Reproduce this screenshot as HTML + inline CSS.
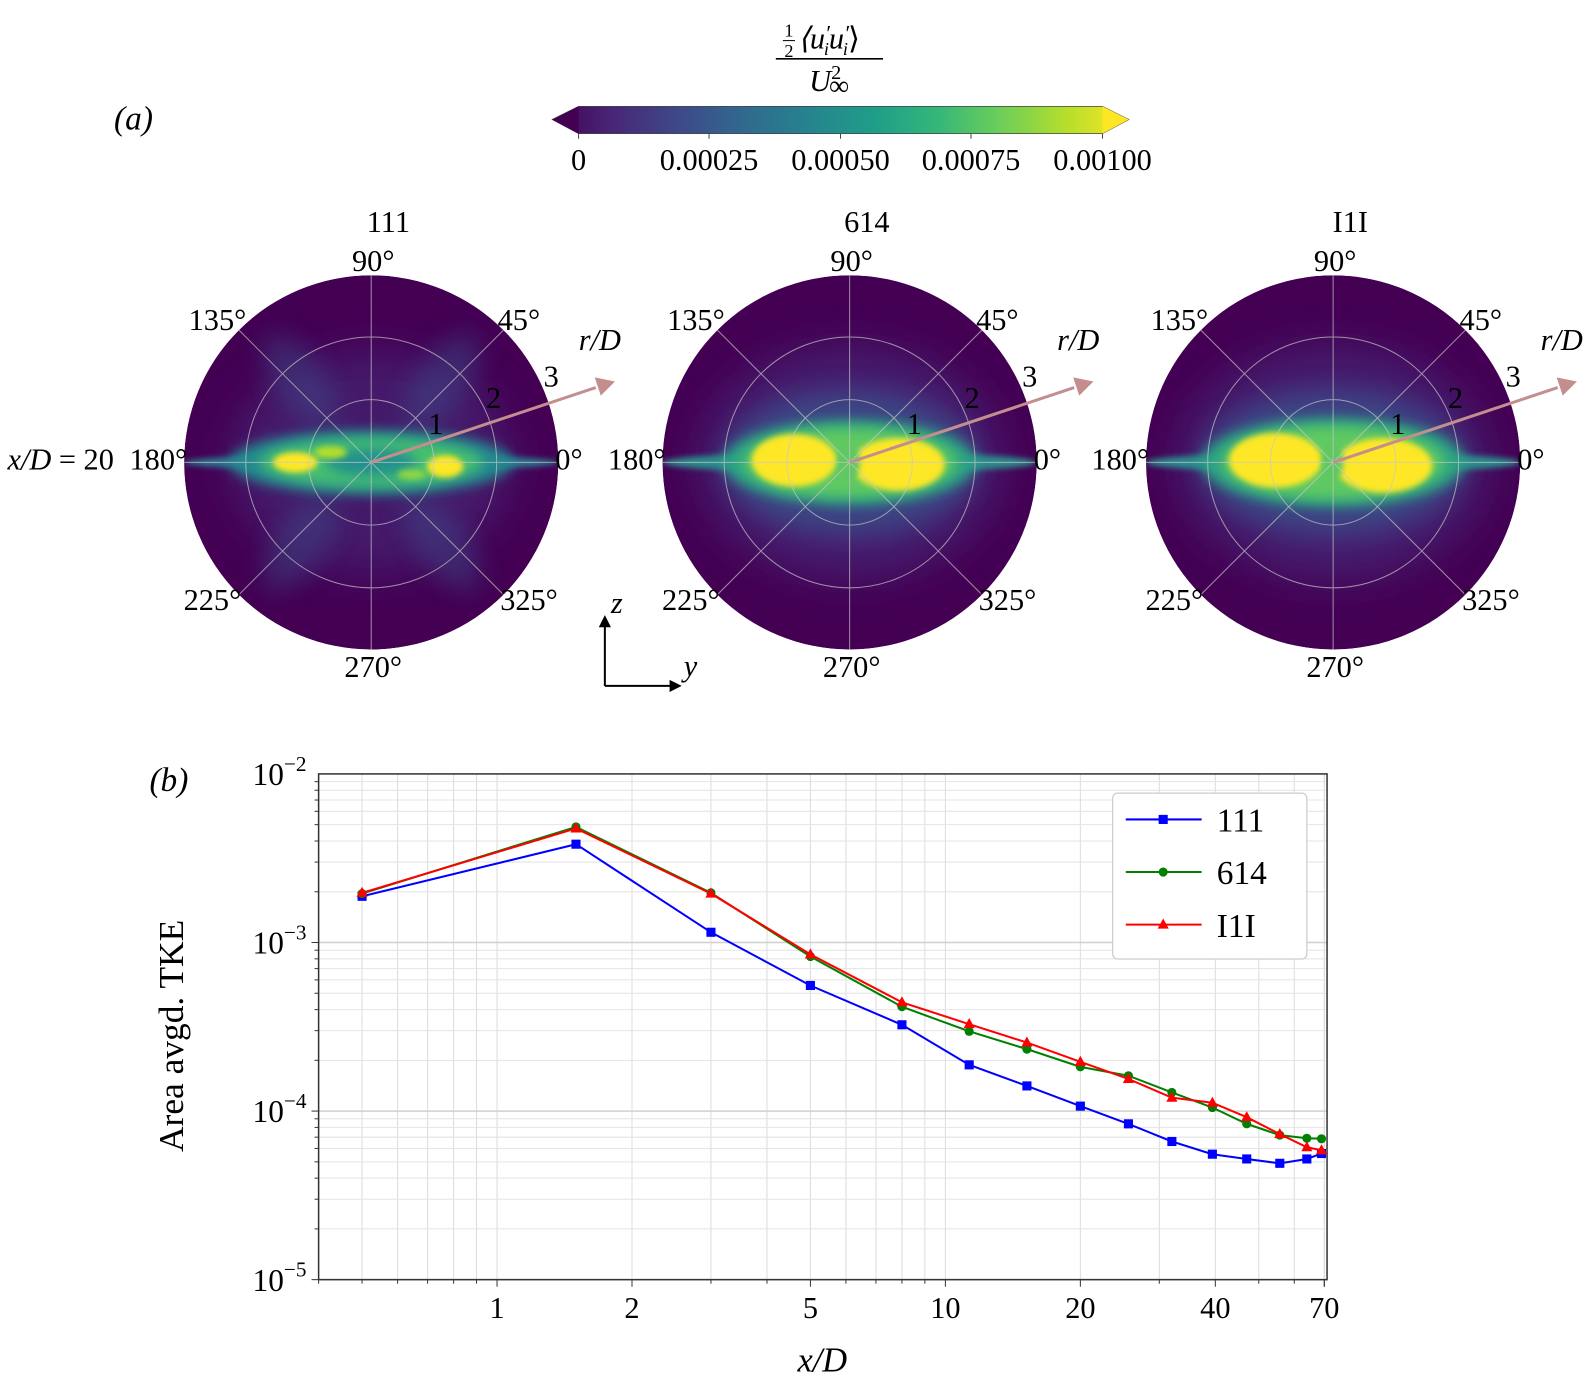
<!DOCTYPE html>
<html><head><meta charset="utf-8"><style>
html,body{margin:0;padding:0;background:#fff;}
svg{display:block;font-family:"Liberation Serif",serif;}
</style></head><body>
<svg id="fig" width="1587" height="1386" viewBox="0 0 1569 1370" xmlns="http://www.w3.org/2000/svg">
<defs>
<linearGradient id="vir" x1="0" x2="1" y1="0" y2="0">
<stop offset="0" stop-color="#440154"/><stop offset="0.11" stop-color="#482878"/><stop offset="0.22" stop-color="#3e4989"/><stop offset="0.33" stop-color="#31688e"/><stop offset="0.44" stop-color="#26828e"/><stop offset="0.56" stop-color="#1f9e89"/><stop offset="0.67" stop-color="#35b779"/><stop offset="0.78" stop-color="#6ece58"/><stop offset="0.89" stop-color="#b5de2b"/><stop offset="1" stop-color="#fde725"/>
</linearGradient>
<filter id="b3" x="-50%" y="-50%" width="200%" height="200%"><feGaussianBlur stdDeviation="3"/></filter>
<filter id="b6" x="-50%" y="-50%" width="200%" height="200%"><feGaussianBlur stdDeviation="6"/></filter>
<filter id="b12" x="-50%" y="-50%" width="200%" height="200%"><feGaussianBlur stdDeviation="12"/></filter>
<filter id="b20" x="-50%" y="-50%" width="200%" height="200%"><feGaussianBlur stdDeviation="20"/></filter>
<clipPath id="cc"><circle cx="0" cy="0" r="185"/></clipPath>
</defs>

<text x="132" y="128" font-size="33" font-style="italic" text-anchor="middle">(a)</text>
<text x="167" y="782" font-size="33" font-style="italic" text-anchor="middle">(b)</text>

<g>
<g>
<text x="780" y="36" font-size="18" text-anchor="middle">1</text>
<line x1="774" x2="786" y1="40" y2="40" stroke="#000" stroke-width="1"/>
<text x="780" y="56" font-size="18" text-anchor="middle">2</text>
<text x="789" y="48" font-size="30" font-style="italic">⟨u<tspan font-size="22" dy="-8">′</tspan><tspan font-size="18" dy="14" dx="-6">i</tspan><tspan dy="-6">u</tspan><tspan font-size="22" dy="-8">′</tspan><tspan font-size="18" dy="14" dx="-6">i</tspan><tspan dy="-6" font-style="normal">⟩</tspan></text>
<line x1="767" x2="873" y1="58" y2="58" stroke="#000" stroke-width="1.5"/>
<text x="800" y="90" font-size="30" font-style="italic">U<tspan font-style="normal" font-size="20" dy="-12">2</tspan><tspan font-style="normal" font-size="28" dx="-12" dy="16">∞</tspan></text>
</g>
<polygon points="546,118 572,105 1090,105 1116,118 1090,132 572,132" fill="url(#vir)" stroke="#444" stroke-width="0.8"/>
<polygon points="546,118 572,105 572,132" fill="#440154"/>
<polygon points="1116,118 1090,105 1090,132" fill="#fde725"/>
<g font-size="30" text-anchor="middle">
<line x1="572" x2="572" y1="132" y2="137" stroke="#444"/><text x="572" y="168">0</text>
<line x1="701" x2="701" y1="132" y2="137" stroke="#444"/><text x="701" y="168">0.00025</text>
<line x1="831" x2="831" y1="132" y2="137" stroke="#444"/><text x="831" y="168">0.00050</text>
<line x1="960" x2="960" y1="132" y2="137" stroke="#444"/><text x="960" y="168">0.00075</text>
<line x1="1090" x2="1090" y1="132" y2="137" stroke="#444"/><text x="1090" y="168">0.00100</text>
</g>
</g>

<text x="60" y="464" font-size="30" text-anchor="middle"><tspan font-style="italic">x/D</tspan> = 20</text>

<g transform="translate(367,457)">
<g clip-path="url(#cc)">
<circle r="185" fill="#440154"/>
<ellipse rx="140" ry="110" fill="#472a7a" opacity="0.6" filter="url(#b20)"/>
<ellipse cx="-70" cy="-80" rx="25" ry="55" transform="rotate(-35 -70 -80)" fill="#3b4f8a" opacity="0.45" filter="url(#b12)"/>
<ellipse cx="70" cy="-80" rx="25" ry="55" transform="rotate(35 70 -80)" fill="#3b4f8a" opacity="0.45" filter="url(#b12)"/>
<ellipse cx="-70" cy="80" rx="25" ry="55" transform="rotate(35 -70 80)" fill="#3b4f8a" opacity="0.45" filter="url(#b12)"/>
<ellipse cx="70" cy="80" rx="25" ry="55" transform="rotate(-35 70 80)" fill="#3b4f8a" opacity="0.45" filter="url(#b12)"/>
<ellipse rx="185" ry="8" fill="#2a788e" filter="url(#b3)"/>
<ellipse rx="140" ry="32" fill="#23898e" filter="url(#b6)"/>
<ellipse rx="110" ry="24" fill="#46c06f" filter="url(#b6)"/>
<ellipse rx="45" ry="14" fill="#21918c" filter="url(#b6)"/>
<ellipse cx="-75" cy="0" rx="22" ry="10" fill="#fde725" filter="url(#b3)"/>
<ellipse cx="-40" cy="-10" rx="16" ry="6" fill="#b5de2b" filter="url(#b3)"/>
<ellipse cx="73" cy="4" rx="18" ry="11" fill="#fde725" filter="url(#b3)"/>
<ellipse cx="40" cy="12" rx="14" ry="5" fill="#8fd744" filter="url(#b3)"/>
</g>
<g stroke="#c8c8c8" stroke-width="1" fill="none" opacity="0.7">
<circle r="62"/><circle r="124"/>
<line x1="-185" x2="185"/><line y1="-185" y2="185"/>
<line x1="-131" y1="-131" x2="131" y2="131"/><line x1="-131" y1="131" x2="131" y2="-131"/>
</g>
</g>

<g transform="translate(840,457)">
<g clip-path="url(#cc)">
<circle r="185" fill="#440154"/>
<ellipse rx="150" ry="115" fill="#472a7a" opacity="0.7" filter="url(#b20)"/>
<ellipse rx="125" ry="72" fill="#3b4f8a" opacity="0.8" filter="url(#b12)"/>
<ellipse rx="185" ry="10" fill="#2a8c8c" filter="url(#b3)"/>
<ellipse rx="125" ry="42" fill="#2aa283" filter="url(#b6)"/>
<ellipse rx="105" ry="34" fill="#5ec962" filter="url(#b6)"/>
<ellipse cx="-55" cy="-2" rx="42" ry="26" fill="#fde725" filter="url(#b3)"/>
<ellipse cx="48" cy="2" rx="46" ry="26" fill="#fde725" filter="url(#b3)"/>
<ellipse cx="0" cy="0" rx="10" ry="18" fill="#60c860" filter="url(#b3)"/>
</g>
<g stroke="#c8c8c8" stroke-width="1" fill="none" opacity="0.7">
<circle r="62"/><circle r="124"/>
<line x1="-185" x2="185"/><line y1="-185" y2="185"/>
<line x1="-131" y1="-131" x2="131" y2="131"/><line x1="-131" y1="131" x2="131" y2="-131"/>
</g>
</g>

<g transform="translate(1318,457)">
<g clip-path="url(#cc)">
<circle r="185" fill="#440154"/>
<ellipse rx="155" ry="115" fill="#472a7a" opacity="0.7" filter="url(#b20)"/>
<ellipse rx="130" ry="72" fill="#3b4f8a" opacity="0.8" filter="url(#b12)"/>
<ellipse rx="185" ry="10" fill="#2a8c8c" filter="url(#b3)"/>
<ellipse rx="130" ry="44" fill="#2aa283" filter="url(#b6)"/>
<ellipse rx="110" ry="36" fill="#5ec962" filter="url(#b6)"/>
<ellipse cx="-57" cy="-2" rx="46" ry="27" fill="#fde725" filter="url(#b3)"/>
<ellipse cx="50" cy="3" rx="48" ry="27" fill="#fde725" filter="url(#b3)"/>
<ellipse cx="0" cy="0" rx="10" ry="18" fill="#60c860" filter="url(#b3)"/>
</g>
<g stroke="#c8c8c8" stroke-width="1" fill="none" opacity="0.7">
<circle r="62"/><circle r="124"/>
<line x1="-185" x2="185"/><line y1="-185" y2="185"/>
<line x1="-131" y1="-131" x2="131" y2="131"/><line x1="-131" y1="131" x2="131" y2="-131"/>
</g>
</g>

<g id="polarLabels" font-size="30"></g>

<g>
<line x1="598" y1="678" x2="598" y2="618" stroke="#000" stroke-width="2"/>
<polygon points="592,620 598,608 604,620" fill="#000"/>
<line x1="598" y1="678" x2="664" y2="678" stroke="#000" stroke-width="2"/>
<polygon points="662,672 674,678 662,684" fill="#000"/>
<text x="604" y="606" font-size="30" font-style="italic">z</text>
<text x="676" y="668" font-size="30" font-style="italic">y</text>
</g>

<g id="chart"></g>
</svg>
<script>
// ---------- chart data ----------
const xCats = [0.5, 1.5, 3, 5, 8, 11.3, 15.2, 20, 25.6, 32, 39.4, 47, 55.7, 64, 69];
const s111 = [1.88e-3, 3.83e-3, 1.15e-3, 5.56e-4, 3.25e-4, 1.88e-4, 1.41e-4, 1.07e-4, 8.4e-5, 6.6e-5, 5.55e-5, 5.2e-5, 4.9e-5, 5.2e-5, 5.6e-5];
const s614 = [1.95e-3, 4.85e-3, 1.97e-3, 8.26e-4, 4.16e-4, 2.97e-4, 2.33e-4, 1.83e-4, 1.62e-4, 1.29e-4, 1.05e-4, 8.4e-5, 7.2e-5, 6.9e-5, 6.85e-5];
const sI1I = [1.97e-3, 4.75e-3, 1.95e-3, 8.5e-4, 4.42e-4, 3.28e-4, 2.55e-4, 1.96e-4, 1.55e-4, 1.2e-4, 1.12e-4, 9.2e-5, 7.3e-5, 6.1e-5, 5.85e-5];
const seriesNames = ["111", "614", "I1I"];
const xTickLabels = [1, 2, 5, 10, 20, 40, 70];
const yTickExps = [-2, -3, -4, -5];

const NS = "http://www.w3.org/2000/svg";
const L = 315, R = 1312, T = 765, B = 1265;
const xmin = 0.4, xmax = 71, ymin = 1e-5, ymax = 1e-2;
function X(v){ return L + (Math.log10(v)-Math.log10(xmin))/(Math.log10(xmax)-Math.log10(xmin))*(R-L); }
function Y(v){ return B - (Math.log10(v)-Math.log10(ymin))/(Math.log10(ymax)-Math.log10(ymin))*(B-T); }
function mk(tag, attrs, parent){ const e=document.createElementNS(NS,tag); for(const k in attrs) e.setAttribute(k,attrs[k]); parent.appendChild(e); return e; }

const chart = document.getElementById("chart");
const xg = [];
for (const d of [0.1,1,10]) for (let m=1;m<10;m++){ const v=m*d; if(v>=xmin && v<=xmax) xg.push(v); }
xg.push(70);
for (const v of xg){
  const gl = mk("line",{x1:X(v),x2:X(v),y1:T,y2:B,stroke:"#dcdcdc","stroke-width":1},chart);
  
  
  mk("line",{x1:X(v),x2:X(v),y1:B,y2:B+(xTickLabels.includes(v)?7:4),stroke:"#333","stroke-width":1},chart);
}
for (let e=-5;e<-2;e++) for (let m=1;m<10;m++){
  const v=m*Math.pow(10,e);
  const gl = mk("line",{x1:L,x2:R,y1:Y(v),y2:Y(v),stroke:m===1?"#d0d0d0":"#e4e4e4","stroke-width":m===1?1.5:1},chart);
  
  
  mk("line",{x1:L,x2:L-(m===1?7:4),y1:Y(v),y2:Y(v),stroke:"#333","stroke-width":1},chart);
}
mk("rect",{x:L,y:T,width:R-L,height:B-T,fill:"none",stroke:"#333","stroke-width":1.5},chart);
for (const v of xTickLabels){
  const t = mk("text",{x:X(v),y:B+38,"font-size":30,"text-anchor":"middle"},chart);
  t.textContent = v;
  
  
}
for (const e of yTickExps){
  const t = mk("text",{x:L-12,y:Y(Math.pow(10,e))+11,"font-size":31,"text-anchor":"end"},chart);
  t.innerHTML = '10<tspan font-size="21" dy="-14">\u2212'+(-e)+'</tspan>';
  
  
}
const xl = mk("text",{x:813,y:1356,"font-size":34,"text-anchor":"middle","font-style":"italic"},chart);
xl.textContent = "x/D";


const yl = mk("text",{x:0,y:0,"font-size":35,"text-anchor":"middle",transform:"translate(181,1024) rotate(-90)"},chart);
yl.textContent = "Area avgd. TKE";



const colors = ["#0000ff","#008000","#ff0000"];
const allSeries = [s111, s614, sI1I];
function marker(kind, cx, cy, color, parent){
  let m;
  if (kind===0) m = mk("rect",{x:cx-4.5,y:cy-4.5,width:9,height:9,fill:color},parent);
  else if (kind===1) m = mk("circle",{cx:cx,cy:cy,r:4.5,fill:color},parent);
  else m = mk("polygon",{points:`${cx},${cy-6} ${cx+5.5},${cy+4} ${cx-5.5},${cy+4}`,fill:color},parent);
  return m;
}
allSeries.forEach((s, si)=>{
  const g = mk("g",{},chart);
  
  
  const pts = s.map((v,i)=>X(xCats[i]).toFixed(1)+","+Y(v).toFixed(1)).join(" ");
  mk("polyline",{points:pts,fill:"none",stroke:colors[si],"stroke-width":2},g);
  s.forEach((v,i)=>{
    const m = marker(si, X(xCats[i]), Y(v), colors[si], g);
    
    
  });
});
const lg = mk("g",{},chart);


mk("rect",{x:1100,y:784,width:192,height:164,rx:5,fill:"#fff",stroke:"#cccccc","stroke-width":1.2},lg);
seriesNames.forEach((n,i)=>{
  const yy = 810 + i*52;
  const e = mk("g",{},lg);
  
  
  mk("line",{x1:1113,x2:1188,y1:yy,y2:yy,stroke:colors[i],"stroke-width":2},e);
  marker(i,1150,yy,colors[i],e);
  const t = mk("text",{x:1203,y:yy+12,"font-size":33},e);
  t.textContent = n;
});

const pl = document.getElementById("polarLabels");
const centers = [367, 840, 1318];
const titles = ["111","614","I1I"];
centers.forEach((cx,k)=>{
  const g = mk("g",{},pl);
  
  
  const lab = (x,y,txt,anchor,ital)=>{ const t=mk("text",{x:x,y:y,"text-anchor":anchor||"middle"},g); if(ital) t.setAttribute("font-style","italic"); t.textContent=txt; return t; };
  lab(cx+17, 229, titles[k]);
  lab(cx+2, 268, "90°");
  lab(cx+146, 326, "45°");
  lab(cx-152, 326, "135°");
  lab(cx-182, 464, "180°", "end");
  lab(cx+182, 464, "0°", "start");
  lab(cx-157, 603, "225°");
  lab(cx+156, 603, "325°");
  lab(cx+2, 669, "270°");
  lab(cx+226, 346, "r/D", "middle", true);
  lab(cx+64, 429, "1"); lab(cx+121, 403, "2"); lab(cx+178, 382, "3");
  mk("line",{x1:cx,y1:457,x2:cx+222,y2:383,stroke:"#c48e8e","stroke-width":3},g);
  mk("polygon",{points:`${cx+221},${373} ${cx+241},${377} ${cx+227},${391}`,fill:"#c48e8e"},g);
});
</script>
</body></html>
